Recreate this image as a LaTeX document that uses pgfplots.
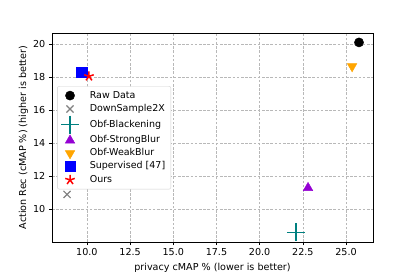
\documentclass[border=0pt]{standalone}
\usepackage{pgfplots}
\pgfplotsset{compat=1.18}
\usepackage{fontspec}
\setmainfont{DejaVu Sans}
\definecolor{mteal}{HTML}{008080}
\definecolor{mviolet}{HTML}{9400D3}
\definecolor{morange}{HTML}{FFA500}
\definecolor{mgray}{HTML}{808080}
\begin{document}
\begin{tikzpicture}
\path[use as bounding box] (-52pt,-35pt) rectangle (363pt,242pt);
\begin{axis}[
  width=321pt, height=209pt, scale only axis,
  xmin=7.98, xmax=26.56, ymin=8.02, ymax=20.67,
  xtick={10,12.5,...,25}, ytick={10,12,...,20},
  x tick label style={/pgf/number format/.cd, fixed, fixed zerofill, precision=1},
  /pgf/number format/assume math mode=true,
  grid=major,
  grid style={dash pattern=on 2.6pt off 1.6pt, color=black!28, line width=0.55pt},
  axis line style={line width=0.7pt},
  tick align=outside, tick pos=left, major tick length=3.2pt,
  tick style={line width=0.7pt, black},
  tick label style={font=\fontsize{9.6}{11}\selectfont},
  label style={font=\fontsize{9.6}{11}\selectfont},
  xlabel={privacy cMAP \% (lower is better)},
  ylabel={Action Rec (cMAP \%) (higher is better)},
  ylabel style={yshift=-2pt},
  legend image code/.code={\path (0pt,-6pt) (23pt,6.6pt); \draw[#1, only marks] plot coordinates {(6pt,0pt)};},
  legend style={at={(0.016,0.746)}, anchor=north west, draw=black!18, rounded corners=2pt,
    font=\fontsize{9.5}{11}\selectfont, row sep=0pt, inner xsep=3.7pt, inner ysep=2.5pt,
    nodes={inner ysep=0.5pt, text height=7pt, text depth=2pt}},
  legend cell align=left,
]
\addplot[only marks, mark=*, black, mark size=4.6pt] coordinates {(25.75,20.1)};
\addlegendentry{Raw Data}
\addplot[only marks, mark=x, mgray, mark size=5pt, line width=1.2pt] coordinates {(8.85,10.9)};
\addlegendentry{DownSample2X}
\addplot[only marks, mark=+, mteal, mark size=9pt, line width=1.3pt] coordinates {(22.1,8.6)};
\addlegendentry{Obf-Blackening}
\addplot[only marks, mark=triangle*, mviolet, mark size=5.5pt] coordinates {(22.8,11.3)};
\addlegendentry{Obf-StrongBlur}
\addplot[only marks, mark=triangle*, mark options={rotate=180}, morange, mark size=5.5pt] coordinates {(25.35,18.65)};
\addlegendentry{Obf-WeakBlur}
\addplot[only marks, mark=square*, blue, mark size=5.2pt] coordinates {(9.7,18.3)};
\addlegendentry{Supervised [47]}
\addplot[only marks, mark=star, red, mark size=5pt, line width=1.5pt] coordinates {(10.12,18.05)};
\addlegendentry{Ours}
\end{axis}
\end{tikzpicture}
\end{document}
